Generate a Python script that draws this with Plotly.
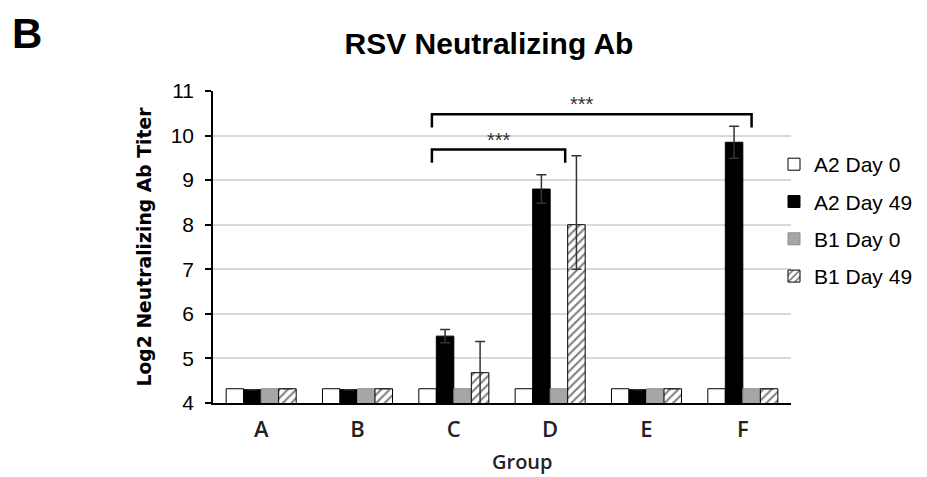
import plotly.graph_objects as go

groups = ["A", "B", "C", "D", "E", "F"]
series_names = ["A2 Day 0", "A2 Day 49", "B1 Day 0", "B1 Day 49"]

a2_day0 = [4.32, 4.32, 4.32, 4.32, 4.32, 4.32]
a2_day49 = [4.30, 4.30, 5.50, 8.80, 4.30, 9.85]
b1_day0 = [4.32, 4.32, 4.32, 4.32, 4.32, 4.32]
b1_day49 = [4.32, 4.32, 4.68, 8.00, 4.32, 4.32]

a2_day49_err = [0, 0, 0.15, 0.32, 0, 0.36]
b1_day49_err_plus = [0, 0, 0.70, 1.55, 0, 0]
b1_day49_err_minus = [0, 0, 0.70, 1.00, 0, 0]

# significance brackets: (start group, start bar, end group, end bar, level, label)
brackets = [("C", 0, "D", 2, 9.69, "***"), ("C", 0, "F", 2, 10.48, "***")]

n_series = 4
bargap = 0.273
bar_w = (1 - bargap) / n_series

# page has an 8px body margin, so the figure is sized to fit the viewport
W, H = 919, 469
ML, MR, MT, MB = 205, 136, 83, 74
plot_w = W - ML - MR
plot_h = H - MT - MB

fig = go.Figure()
fig.add_trace(go.Bar(name=series_names[0], x=groups, y=a2_day0,
                     marker=dict(color="white", line=dict(color="black", width=1)),
                     legendgroup="g0"))
fig.add_trace(go.Bar(name=series_names[1], x=groups, y=a2_day49,
                     marker=dict(color="black", line=dict(color="black", width=1)),
                     error_y=dict(type="data", array=a2_day49_err, color="#333333",
                                  thickness=1.5, width=5, visible=True),
                     legendgroup="g1"))
fig.add_trace(go.Bar(name=series_names[2], x=groups, y=b1_day0,
                     marker=dict(color="#a6a6a6", line=dict(color="#8c8c8c", width=1)),
                     legendgroup="g2"))
fig.add_trace(go.Bar(name=series_names[3], x=groups, y=b1_day49,
                     marker=dict(color="white", line=dict(color="black", width=1),
                                 pattern=dict(shape="/", fgcolor="black", bgcolor="white",
                                              size=6, solidity=0.35)),
                     error_y=dict(type="data", symmetric=False, array=b1_day49_err_plus,
                                  arrayminus=b1_day49_err_minus, color="#333333",
                                  thickness=1.5, width=5, visible=True),
                     legendgroup="g3"))


def bar_x(group, k):
    return groups.index(group) + (k - (n_series - 1) / 2) * bar_w


for i, (g0, k0, g1, k1, level, label) in enumerate(brackets):
    x0 = bar_x(g0, k0) + 0.045
    x1 = bar_x(g1, k1) + (0.065 if i == 0 else 0.0)
    drop = 0.3
    fig.add_shape(type="path",
                  path=f"M {x0} {level - drop} L {x0} {level} L {x1} {level} L {x1} {level - drop}",
                  xref="x", yref="y", line=dict(color="black", width=2.5))
    fig.add_annotation(x=(x0 + x1) / 2 - (0.0 if i == 0 else 0.1), y=level + 0.22,
                       text=label, showarrow=False, xref="x", yref="y", yanchor="middle",
                       font=dict(size=20, color="#333333", family="Arial"))

fig.add_annotation(text="<b>B</b>", x=(19 - ML) / plot_w, y=(H - MB) / plot_h,
                   xref="paper", yref="paper", showarrow=False,
                   xanchor="center", yanchor="top",
                   font=dict(size=42, color="black", family="Arial"))

fig.add_annotation(text="Group", x=(514 - ML) / plot_w, y=-MB / plot_h,
                   xref="paper", yref="paper", showarrow=False,
                   xanchor="center", yanchor="bottom",
                   font=dict(size=20, color="#222222", family="Open Sans", weight=600))

fig.update_layout(
    width=W, height=H,
    margin=dict(l=ML, r=MR, t=MT, b=MB, autoexpand=False),
    paper_bgcolor="white", plot_bgcolor="white",
    barmode="group", bargap=bargap, bargroupgap=0,
    title=dict(text="<b>RSV Neutralizing Ab</b>", x=481 / W, xanchor="center",
               y=1 - 35 / H, yanchor="middle",
               font=dict(size=30, color="black", family="Arial")),
    font=dict(family="Arial", color="black"),
    legend=dict(x=(766 - ML) / plot_w, xanchor="left", y=0.83, yanchor="top",
                font=dict(size=21, color="black", family="Arial"),
                tracegroupgap=7, itemwidth=30, bgcolor="rgba(0,0,0,0)"),
    showlegend=True,
)
fig.update_xaxes(showline=True, linecolor="black", linewidth=1.5, ticks="",
                 ticklabelstandoff=6,
                 tickfont=dict(size=22, color="#222222", family="Open Sans", weight=600))
fig.update_yaxes(range=[4, 11], dtick=1, showline=True, linecolor="black", linewidth=1.5,
                 ticks="outside", ticklen=6, tickcolor="black", tickwidth=1.5,
                 ticklabelstandoff=7,
                 showgrid=True, gridcolor="#d9d9d9", gridwidth=1.5,
                 tickfont=dict(size=21, color="black"),
                 title=dict(text="<b>Log2 Neutralizing Ab Titer</b>",
                            font=dict(size=18.8, color="black", family="DejaVu Sans"),
                            standoff=14))

fig.write_html("out.html")
